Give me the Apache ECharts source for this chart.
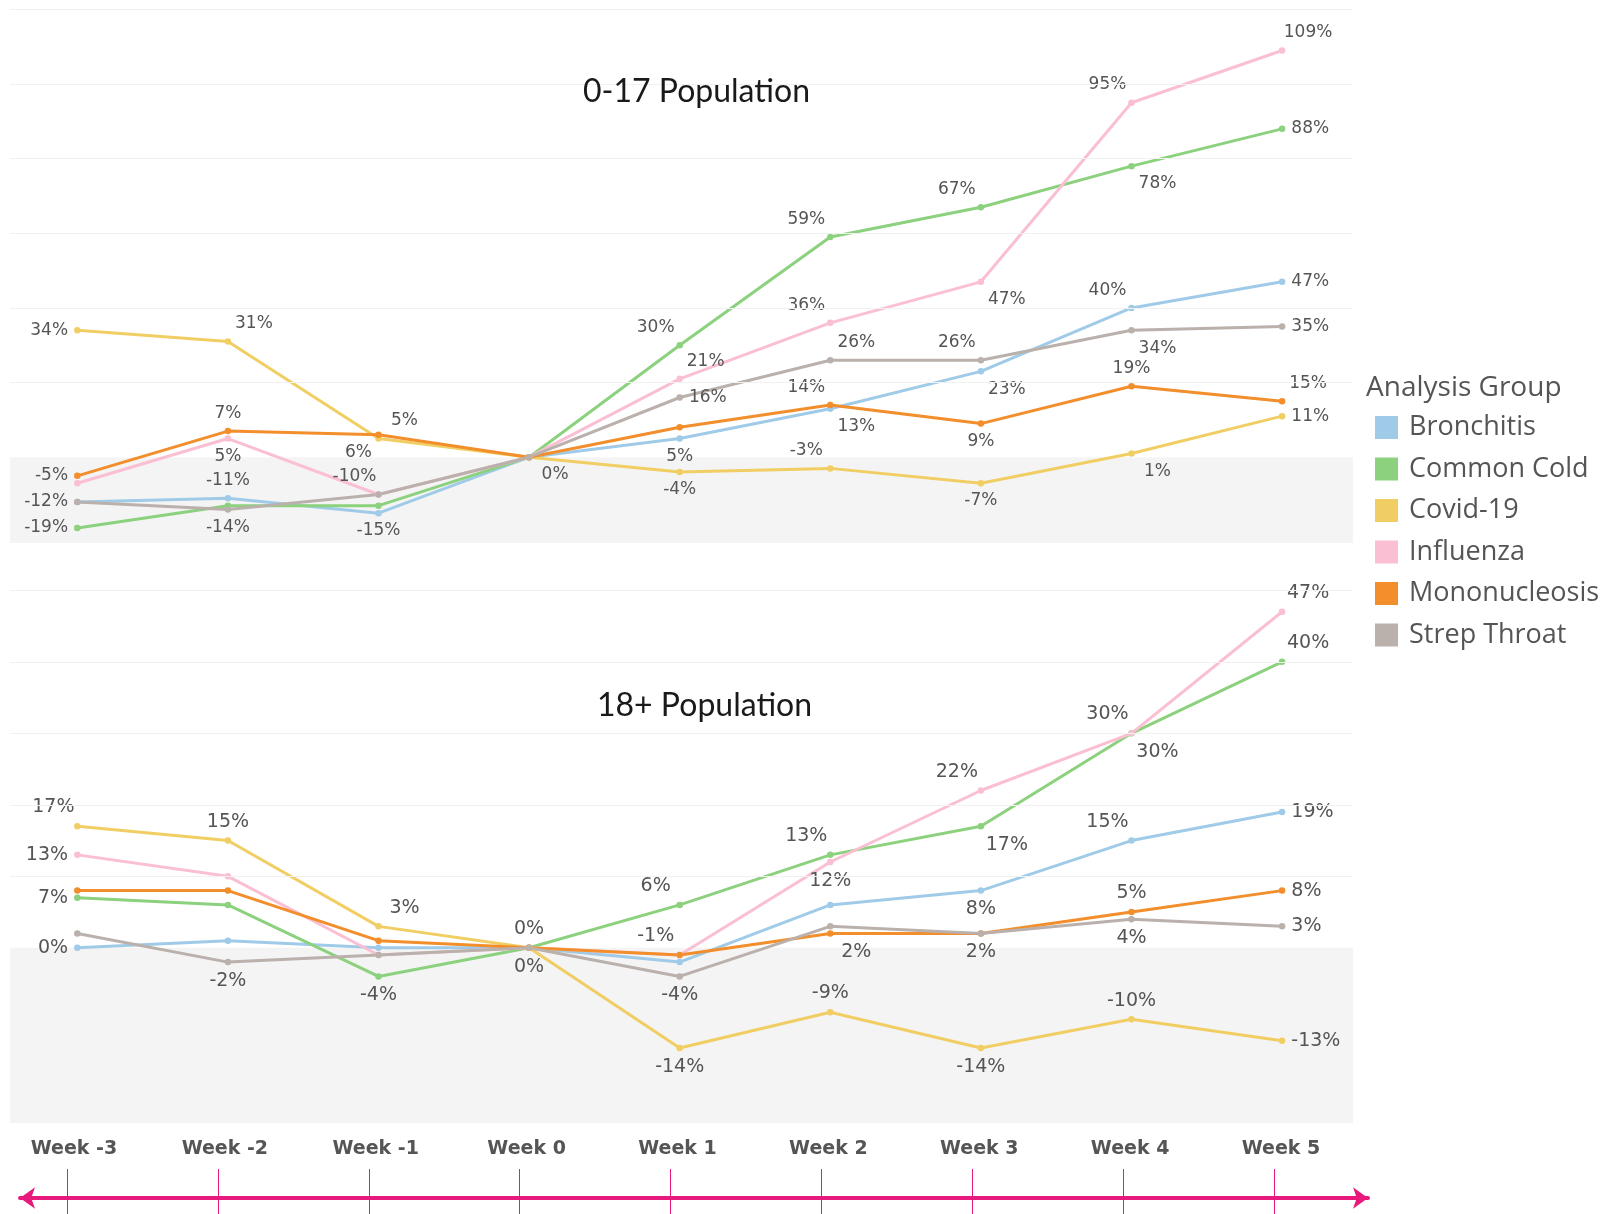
<!DOCTYPE html>
<html><head><meta charset="utf-8">
<script src="https://cdn.jsdelivr.net/npm/echarts@6/dist/echarts.min.js"></script>
<style>html,body{margin:0;padding:0;background:#fff;}#c{width:1615px;height:1214px;}</style>
</head><body><div id="c"></div>
<script>
// ---------- data ----------
const weeks = ['Week -3','Week -2','Week -1','Week 0','Week 1','Week 2','Week 3','Week 4','Week 5'];
const weekNums = [-3,-2,-1,0,1,2,3,4,5];
const groups = ['Bronchitis','Common Cold','Covid-19','Influenza','Mononucleosis','Strep Throat'];

// 0-17 Population: % change vs Week 0
const kidsBronchitis = [-12, -11, -15, 0, 5, 13, 23, 40, 47];
const kidsCommonCold = [-19, -13, -13, 0, 30, 59, 67, 78, 88];
const kidsCovid      = [34, 31, 5, 0, -4, -3, -7, 1, 11];
const kidsInfluenza  = [-7, 5, -10, 0, 21, 36, 47, 95, 109];
const kidsMono       = [-5, 7, 6, 0, 8, 14, 9, 19, 15];
const kidsStrep      = [-12, -14, -10, 0, 16, 26, 26, 34, 35];

// 18+ Population: % change vs Week 0
const adultBronchitis = [0, 1, 0, 0, -2, 6, 8, 15, 19];
const adultCommonCold = [7, 6, -4, 0, 6, 13, 17, 30, 40];
const adultCovid      = [17, 15, 3, 0, -14, -9, -14, -10, -13];
const adultInfluenza  = [13, 10, -1, 0, -1, 12, 22, 30, 47];
const adultMono       = [8, 8, 1, 0, -1, 2, 2, 5, 8];
const adultStrep      = [2, -2, -1, 0, -4, 3, 2, 4, 3];

// gridline values
const kidsGrid  = [20, 40, 60, 80, 100, 120];
const adultGrid = [10, 20, 30, 40, 50];

// ---------- styling (label placement per point) ----------
const colors = {
  'Bronchitis':'#a0cbe8','Common Cold':'#8cd17d','Covid-19':'#f1ce63',
  'Influenza':'#fabfd2','Mononucleosis':'#f28e2b','Strep Throat':'#bab0ac'
};
const kidsLabels = {
  'Bronchitis':   ['l','t','b',null,'b','br','br','tl','r'],
  'Common Cold':  ['l',null,null,null,'tl','tl','tl','br','r'],
  'Covid-19':     ['l','tr','tr','br','b','tl','b','br','r'],
  'Influenza':    [null,'b','tl',null,'tr','tl','br','tl','tr'],
  'Mononucleosis':['l','t','bl',null,null,'tl','b','t','tr'],
  'Strep Throat': [null,'b',null,null,'r','tr','tl','br','r']
};
const adultLabels = {
  'Bronchitis':   ['l',null,null,null,null,null,'b','tl','r'],
  'Common Cold':  ['l',null,'b',null,'tl','tl','br','tl','tr'],
  'Covid-19':     ['tl','t','tr','t','b','t','b','t','r'],
  'Influenza':    ['l',null,null,null,null,'b','tl','br','tr'],
  'Mononucleosis':[null,null,null,null,'tl','br','b','t','r'],
  'Strep Throat': [null,'b',null,'b','b',null,null,'b','r']
};
const posMap = {
  t:{position:'top',offset:[0,0]}, b:{position:'bottom',offset:[0,0]},
  l:{position:'left',offset:[0,0]}, r:{position:'right',offset:[0,0]},
  tl:{position:'top',offset:[-24,0]}, tr:{position:'top',offset:[26,0]},
  bl:{position:'bottom',offset:[-20,0]}, br:{position:'bottom',offset:[26,0]}
};

const X_MIN = -3.447, X_MAX = 5.471;
const KID_MIN = -23, KID_MAX = 122;
const ADU_MIN = -24.5, ADU_MAX = 52;

function build(vals, pos) {
  return vals.map((v, i) => {
    const item = { value: [weekNums[i], v] };
    const p = pos[i];
    if (p) item.label = Object.assign({ show: true }, posMap[p]);
    return item;
  });
}

const kidsData  = [kidsBronchitis, kidsCommonCold, kidsCovid, kidsInfluenza, kidsMono, kidsStrep];
const adultData = [adultBronchitis, adultCommonCold, adultCovid, adultInfluenza, adultMono, adultStrep];

const series = [];
function addChart(dataSets, labels, idx, fontSize, gridVals, yMin) {
  groups.forEach((g, k) => {
    const s = {
      name: g, type: 'line', xAxisIndex: idx, yAxisIndex: idx,
      data: build(dataSets[k], labels[g]),
      symbol: 'circle', symbolSize: 6.5, showSymbol: true,
      lineStyle: { width: 3, color: colors[g] },
      itemStyle: { color: colors[g] },
      label: { show: false, color: '#555', fontFamily: 'DejaVu Sans', fontSize: fontSize, distance: 6,
               formatter: p => p.value[1] + '%' },
      emphasis: { disabled: true },
      z: 3
    };
    if (k === 0) {
      s.markArea = { silent: true, itemStyle: { color: '#f4f4f4' },
        data: [[{ yAxis: yMin }, { yAxis: 0 }]] };
      s.markLine = { silent: true, symbol: 'none', label: { show: false },
        lineStyle: { color: '#f1f1f1', type: 'solid', width: 1 },
        data: gridVals.map(v => ({ yAxis: v })) };
    }
    series.push(s);
  });
}
addChart(kidsData, kidsLabels, 0, 17, kidsGrid, KID_MIN);
addChart(adultData, adultLabels, 1, 19, adultGrid, ADU_MIN);

const chart = echarts.init(document.getElementById('c'), null, { renderer: 'canvas' });
chart.setOption({
  backgroundColor: '#ffffff',
  animation: false,
  color: groups.map(g => colors[g]),
  title: [
    { text: '0-17 Population', left: 578, top: 71,
      textStyle: { fontFamily: 'Lato', fontSize: 32, fontWeight: 'normal', color: '#1a1a1a' } },
    { text: '18+ Population', left: 592, top: 685,
      textStyle: { fontFamily: 'Lato', fontSize: 32, fontWeight: 'normal', color: '#1a1a1a' } },
    { text: 'Analysis Group', left: 1361, top: 369,
      textStyle: { fontFamily: 'Open Sans', fontSize: 28, fontWeight: 'normal', color: '#555' } }
  ],
  legend: {
    data: groups, orient: 'vertical', left: 1375, top: 414, padding: 0,
    icon: 'rect', itemWidth: 23, itemHeight: 23, itemGap: 14.5,
    textStyle: { fontFamily: 'Open Sans', fontSize: 27, color: '#555', padding: [0, 0, 0, 6] }
  },
  grid: [
    { left: 10, right: 262, top: 2, height: 541 },
    { left: 10, right: 262, top: 576, height: 547 },
    { left: 20, right: 247, top: 1150, bottom: 16 },
    { left: 67, right: 341, top: 1169, bottom: 0 }
  ],
  xAxis: [
    { gridIndex: 0, type: 'value', min: X_MIN, max: X_MAX, show: false },
    { gridIndex: 1, type: 'value', min: X_MIN, max: X_MAX, show: false },
    { gridIndex: 2, type: 'value', min: 0, max: 1, position: 'bottom',
      axisLine: { show: true, onZero: false, symbol: ['arrow', 'arrow'], symbolSize: [16, 15],
                  lineStyle: { color: '#e8197d', width: 4 } },
      axisTick: { show: false }, axisLabel: { show: false }, splitLine: { show: false } },
    { gridIndex: 3, type: 'category', data: weeks, boundaryGap: false, position: 'top',
      axisLine: { show: false }, axisTick: { show: false },
      splitLine: { show: true, lineStyle: { color: '#e8197d', width: 1 } },
      axisLabel: { show: true, margin: 10, interval: 0, color: '#555', fontFamily: 'DejaVu Sans',
                   fontWeight: 'bold', fontSize: 19, padding: [0, 0, 0, 14] } }
  ],
  yAxis: [
    { gridIndex: 0, type: 'value', min: KID_MIN, max: KID_MAX, show: false },
    { gridIndex: 1, type: 'value', min: ADU_MIN, max: ADU_MAX, show: false },
    { gridIndex: 2, type: 'value', min: 0, max: 1, show: false },
    { gridIndex: 3, type: 'value', min: 0, max: 1, show: false }
  ],
  series: series
});
</script>
</body></html>
